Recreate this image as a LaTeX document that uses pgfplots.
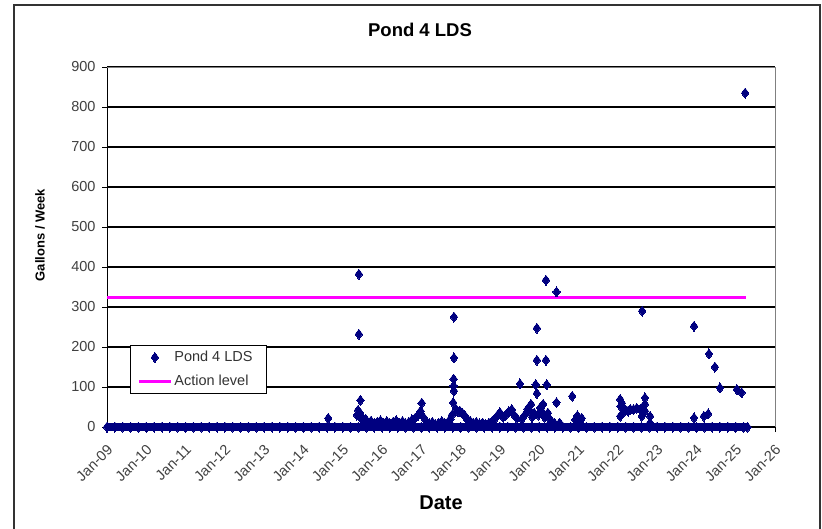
\documentclass[border=0pt]{standalone}
\usepackage{fontspec}
\setmainfont{Liberation Sans}
\usepackage{pgfplots}
\pgfplotsset{compat=1.18}
\definecolor{navy}{RGB}{0,0,128}
\definecolor{mag}{RGB}{255,0,255}
\pgfplotsset{
 markleg/.style={legend image code/.code={\draw[##1] plot coordinates {(16pt,0pt)};}},
 lineleg/.style={legend image code/.code={\draw[##1] (0pt,0pt) -- (32pt,0pt);}},
}
\begin{document}
\begin{tikzpicture}[x=1pt,y=1pt]
\useasboundingbox (0,0) rectangle (822,528);
\draw[line width=1.3pt, black!80] (14,-10) rectangle (820,523);
\begin{axis}[
 at={(107pt,101pt)}, anchor=south west,
 scale only axis, width=668pt, height=360pt,
 xmin=2009, xmax=2026, ymin=0, ymax=900,
 axis x line*=bottom, axis y line*=left,
 axis line style={black, line width=1pt},
 xtick={2009,2010,...,2026},
 xticklabels={Jan-09,Jan-10,Jan-11,Jan-12,Jan-13,Jan-14,Jan-15,Jan-16,Jan-17,Jan-18,Jan-19,Jan-20,Jan-21,Jan-22,Jan-23,Jan-24,Jan-25,Jan-26},
 ytick={0,100,...,900},
 ymajorgrids, grid style={black, line width=1.2pt},
 tick style={black, line width=0.8pt},
 tick align=outside, major tick length=5pt,
 /pgf/number format/assume math mode=true,
 yticklabel style={font=\fontsize{14.5}{16}\selectfont, text=black!75, xshift=-3pt},
 xticklabel style={font=\fontsize{14.5}{16}\selectfont, text=black!75, xshift=5.5pt, yshift=-13pt, rotate=45, anchor=east},
 clip=false,
 title={Pond 4 LDS},
 title style={font=\bfseries\fontsize{18.5}{21}\selectfont, at={(rel axis cs:0.4686,1.0875)}, anchor=center},
 xlabel={Date},
 xlabel style={font=\bfseries\fontsize{20}{23}\selectfont, at={(rel axis cs:0.5,-0.2097)}, anchor=center},
 ylabel={Gallons / Week},
 ylabel style={font=\bfseries\fontsize{13}{15}\selectfont, at={(rel axis cs:-0.1003,0.533)}, anchor=center},
 legend style={at={(rel axis cs:0.0344,0.2278)}, anchor=north west, draw=black, line width=0.8pt, font=\fontsize{14.5}{16}\selectfont, text=black!80, inner xsep=7pt, inner ysep=4pt, row sep=8pt, fill=white},
 legend cell align=left,
]
\draw[black!50, line width=1pt] (rel axis cs:0,1) -- (rel axis cs:1,1) -- (rel axis cs:1,0);
% baseline of zero readings
\addplot[navy, line width=8pt, mark=diamond*, mark size=5pt, mark options={solid, line width=0pt}, forget plot] coordinates {
(2009.0,0)(2009.2,0)(2009.4,0)(2009.6,0)(2009.8,0)(2010.0,0)(2010.2,0)(2010.4,0)(2010.6,0)(2010.8,0)
(2011.0,0)(2011.2,0)(2011.4,0)(2011.6,0)(2011.8,0)(2012.0,0)(2012.2,0)(2012.4,0)(2012.6,0)(2012.8,0)
(2013.0,0)(2013.2,0)(2013.4,0)(2013.6,0)(2013.8,0)(2014.0,0)(2014.2,0)(2014.4,0)(2014.6,0)(2014.8,0)
(2015.0,0)(2015.2,0)(2015.4,0)(2015.6,0)(2015.8,0)(2016.0,0)(2016.2,0)(2016.4,0)(2016.6,0)(2016.8,0)
(2017.0,0)(2017.2,0)(2017.4,0)(2017.6,0)(2017.8,0)(2018.0,0)(2018.2,0)(2018.4,0)(2018.6,0)(2018.8,0)
(2019.0,0)(2019.2,0)(2019.4,0)(2019.6,0)(2019.8,0)(2020.0,0)(2020.2,0)(2020.4,0)(2020.6,0)(2020.8,0)
(2021.0,0)(2021.2,0)(2021.4,0)(2021.6,0)(2021.8,0)(2022.0,0)(2022.2,0)(2022.4,0)(2022.6,0)(2022.8,0)
(2023.0,0)(2023.2,0)(2023.4,0)(2023.6,0)(2023.8,0)(2024.0,0)(2024.2,0)(2024.4,0)(2024.6,0)(2024.8,0)
(2025.0,0)(2025.2,0)(2025.3,0)
};
\addplot[only marks, mark=diamond*, mark size=5pt, navy, mark options={line width=0pt}, markleg] coordinates {
(2014.63,22)
(2015.36,30)(2015.39,42)(2015.41,382)(2015.41,232)(2015.45,67)(2015.44,35)(2015.47,25)(2015.50,18)(2015.54,12)(2015.58,20)
(2015.64,10)(2015.72,15)(2015.80,8)(2015.88,12)(2015.96,16)(2016.04,10)(2016.12,14)(2016.20,8)(2016.28,12)(2016.36,16)
(2016.44,10)(2016.52,14)(2016.60,8)(2016.68,12)(2016.76,18)(2016.84,22)(2016.92,30)(2016.98,40)(2017.01,60)(2017.05,25)
(2017.12,15)(2017.20,8)(2017.28,12)(2017.36,6)(2017.44,10)(2017.52,14)(2017.60,8)(2017.68,12)(2017.74,20)(2017.78,30)
(2017.83,275)(2017.83,173)(2017.82,120)(2017.82,103)(2017.83,90)(2017.81,61)(2017.88,45)(2017.93,38)(2017.98,40)(2018.04,35)
(2018.11,28)(2018.16,20)(2018.24,15)(2018.32,10)(2018.40,12)(2018.48,8)(2018.56,10)(2018.64,6)(2018.72,10)(2018.80,14)
(2018.87,20)(2018.93,28)(2018.97,32)(2019.00,36)(2019.08,25)(2019.15,30)(2019.22,38)(2019.30,44)(2019.36,30)(2019.43,22)
(2019.51,108)(2019.56,20)(2019.63,30)(2019.70,45)(2019.77,40)(2019.79,57)(2019.82,25)(2019.87,35)(2019.91,106)(2019.94,84)
(2019.94,247)(2019.94,167)(2019.98,30)(2020.02,48)(2020.06,40)(2020.10,57)(2020.13,25)(2020.17,367)(2020.17,167)(2020.19,106)
(2020.22,35)(2020.27,20)(2020.33,12)(2020.40,8)(2020.44,338)(2020.44,61)(2020.52,10)(2020.84,77)(2020.92,18)(2020.97,28)
(2020.99,25)(2021.04,15)(2021.08,22)
(2022.06,69)(2022.07,52)(2022.06,27)(2022.10,60)(2022.13,35)(2022.18,44)(2022.26,40)(2022.32,44)(2022.40,44)(2022.48,47)
(2022.57,44)(2022.61,27)(2022.62,290)(2022.64,50)(2022.69,73)(2022.69,57)(2022.69,40)(2022.82,27)(2022.82,10)
(2023.94,252)(2023.94,23)(2024.19,27)(2024.30,33)(2024.32,183)(2024.47,150)(2024.60,98)(2025.03,94)(2025.15,86)(2025.24,835)
};
\addlegendentry{Pond 4 LDS\hspace*{5pt}}
\addplot[mag, line width=3pt, no marks, lineleg] coordinates {(2009,325) (2025.25,325)};
\addlegendentry{Action level}
\end{axis}
\end{tikzpicture}
\end{document}
